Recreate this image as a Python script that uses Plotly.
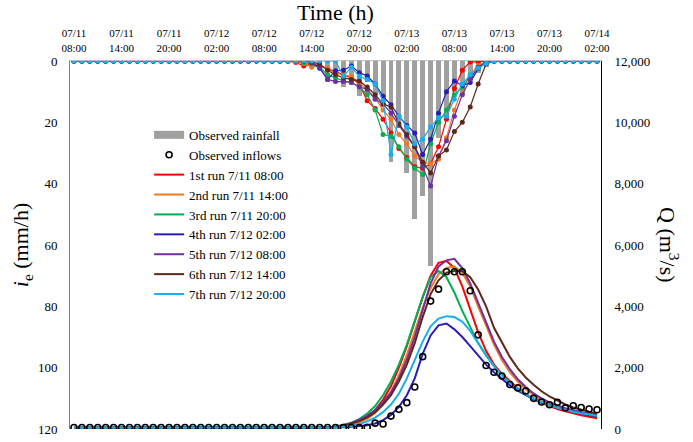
import plotly.graph_objects as go

# ---------------- data ----------------
hours = list(range(67))  # 07/11 08:00 ... 07/14 02:00, hourly
tick_vals = [0, 6, 12, 18, 24, 30, 36, 42, 48, 54, 60, 66]
tick_text = ["07/11<br>08:00", "07/11<br>14:00", "07/11<br>20:00", "07/12<br>02:00",
             "07/12<br>08:00", "07/12<br>14:00", "07/12<br>20:00", "07/13<br>02:00",
             "07/13<br>08:00", "07/13<br>14:00", "07/13<br>20:00", "07/14<br>02:00"]

# observed rainfall (mm/h)
rain_obs = [0] * 30 + [1, 1.5, 2, 3, 8.4, 5.5, 11.3, 7, 11, 15, 33, 20, 36.4, 51.4, 43.9, 66.8,
                       25, 19, 10, 11, 6, 4, 2] + [0] * 14

# forecast rainfall of each run (mm/h)
rain_run1 = [0] * 28 + [0.5, 1.6, 1.0, 1.5, 2.5, 3.5, 4.5, 5.5, 7.5, 13, 15.5, 19, 23.5, 28.5, 31.5,
                        34.5, 35, 33.5, 28, 19, 9, 3, 0.3, 0.3] + [0] * 15
rain_run2 = [0] * 28 + [0.3, 0.8, 2, 1.5, 2.5, 4, 4.5, 5, 7, 9.5, 12, 16, 19, 24, 27, 31, 33, 33.5,
                        32, 25, 16, 9, 4.5, 1.5, 0.3] + [0] * 14
rain_run3 = [0] * 29 + [0.5, 1, 2, 4.5, 5.5, 6.5, 7, 8.5, 11, 16, 24, 24.5, 28, 32, 35, 37, 27, 20,
                        16, 11, 8.5, 5, 2, 0.3] + [0] * 14
rain_run4 = [0] * 30 + [0.5, 2.4, 6, 3.2, 3, 1.6, 3.8, 4.9, 7.5, 11.5, 14.3, 18, 21, 23.5, 30.5,
                        25.5, 17, 10, 6.5, 8, 7, 2.5, 0.5] + [0] * 14
rain_run5 = [0] * 30 + [0.5, 2, 6, 6.7, 6.7, 7, 8.4, 9.3, 12.5, 14, 17, 21, 24.5, 28, 34.5, 40.8,
                        31, 26, 18, 11, 6, 2, 0.3] + [0] * 14
rain_run6 = [0] * 30 + [0.3, 1, 3, 4.5, 5.5, 6, 6.5, 8.5, 11, 14, 15, 20.5, 24, 28, 33, 36.5, 31,
                        29, 23, 20, 15, 7.5, 1] + [0] * 14
rain_run7 = [0] * 34 + [5, 2, 5, 6, 7.5, 13, 30.5, 18, 21.5, 27, 25.5, 21.5, 18.5, 18, 12.5, 7.5,
                        4.5, 2.4, 0.8] + [0] * 14

# observed inflows (m3/s)
q_obs = [50] * 37 + [55, 190, 165, 420, 640, 860, 1370, 2360, 4170, 4560, 5130, 5130, 5130, 4510,
                     3070, 2070, 1850, 1730, 1450, 1340, 1240, 1000, 880, 790, 870, 690, 760, 700,
                     650, 630]

# simulated inflows of each run (m3/s)
q_run1 = [40] * 33 + [60, 100, 160, 260, 400, 620, 950, 1400, 2000, 2700, 3500, 4300, 5000, 5420,
                      5480, 5250, 4650, 3900, 3150, 2550, 2100, 1800, 1550, 1330, 1150, 980, 850,
                      740, 650, 580, 510, 450, 400, 350]
q_run2 = [40] * 33 + [60, 90, 140, 220, 330, 520, 800, 1200, 1750, 2400, 3150, 3950, 4600, 5050,
                      5250, 5300, 5100, 4650, 4000, 3350, 2750, 2250, 1850, 1550, 1300, 1100, 950,
                      820, 720, 640, 570, 510, 460, 420]
q_run3 = [40] * 33 + [80, 130, 200, 320, 500, 750, 1100, 1550, 2100, 2750, 3500, 4300, 4950, 5150,
                      4950, 4450, 3850, 3300, 2800, 2400, 2050, 1750, 1500, 1300, 1130, 1000, 880,
                      780, 700, 630, 570, 520, 480, 440]
q_run4 = [40] * 33 + [45, 55, 70, 90, 120, 180, 290, 460, 720, 1100, 1650, 2450, 3050, 3380, 3440,
                      3250, 3000, 2700, 2400, 2100, 1850, 1620, 1420, 1250, 1100, 970, 860, 770,
                      690, 620, 560, 500, 450, 410]
q_run5 = [40] * 33 + [70, 120, 200, 300, 430, 620, 880, 1200, 1650, 2250, 3000, 3900, 4750, 5300,
                      5500, 5550, 5250, 4750, 4100, 3450, 2850, 2350, 1950, 1620, 1370, 1160, 1000,
                      870, 770, 680, 610, 550, 500, 460]
q_run6 = [40] * 33 + [60, 100, 170, 260, 380, 550, 800, 1100, 1550, 2100, 2800, 3650, 4400, 4850,
                      5100, 5150, 5150, 4950, 4550, 4000, 3300, 2800, 2350, 1980, 1680, 1440, 1230,
                      1060, 920, 800, 700, 620, 560, 500]
q_run7 = [40] * 33 + [50, 70, 100, 160, 250, 370, 550, 800, 1150, 1650, 2250, 2850, 3350, 3600,
                      3680, 3650, 3500, 3200, 2800, 2400, 2050, 1750, 1500, 1300, 1130, 990, 870,
                      770, 690, 620, 560, 510, 470, 430]

run_names = ["1st run 7/11 08:00", "2nd run 7/11 14:00", "3rd run 7/11 20:00",
             "4th run 7/12 02:00", "5th run 7/12 08:00", "6th run 7/12 14:00",
             "7th run 7/12 20:00"]
run_colors = ["#FF0000", "#F07820", "#00B050", "#2A1DB8", "#7030A0", "#5C2A1C", "#18AEEA"]
rain_runs = [rain_run1, rain_run2, rain_run3, rain_run4, rain_run5, rain_run6, rain_run7]
q_runs = [q_run1, q_run2, q_run3, q_run4, q_run5, q_run6, q_run7]

FONT = "Liberation Serif"
BAR_COLOR = "#A0A0A0"

fig = go.Figure()

fig.add_trace(go.Bar(x=hours, y=rain_obs, name="Observed rainfall", marker_color=BAR_COLOR,
                     marker_line_width=0, width=0.62, yaxis="y", showlegend=False))
# legend entry for the rainfall bars (wide grey block as in the reference)
fig.add_trace(go.Scatter(x=[None], y=[None], mode="lines", name="Observed rainfall",
                         line=dict(color=BAR_COLOR, width=8), yaxis="y", legendrank=1))

for name, color, r in zip(run_names, run_colors, rain_runs):
    fig.add_trace(go.Scatter(x=hours, y=r, mode="lines+markers", yaxis="y", showlegend=False,
                             line=dict(color=color, width=1.2),
                             marker=dict(color=color, size=5), hoverinfo="skip"))

for i, (name, color, q) in enumerate(zip(run_names, run_colors, q_runs)):
    fig.add_trace(go.Scatter(x=hours, y=q, mode="lines", yaxis="y2", name=name,
                             line=dict(color=color, width=2), legendrank=3 + i))

fig.add_trace(go.Scatter(x=hours, y=q_obs, mode="markers", yaxis="y2", name="Observed inflows",
                         marker=dict(symbol="circle-open", size=6, color="black",
                                     line=dict(width=1.6, color="black")),
                         legendrank=2))

fig.update_layout(
    width=693, height=442,
    margin=dict(l=70, r=92, t=61, b=13, autoexpand=False),
    paper_bgcolor="white", plot_bgcolor="white",
    font=dict(family=FONT, size=13, color="black"),
    bargap=0,
    xaxis=dict(side="top", range=[-0.5, 66.5], tickvals=tick_vals, ticktext=tick_text,
               tickfont=dict(size=11), showline=True, linecolor="#BFBFBF", linewidth=1,
               showgrid=False, zeroline=False, ticks="", ticklabelstandoff=4, automargin=False),
    yaxis=dict(range=[120, 0], tickvals=[0, 20, 40, 60, 80, 100, 120], showgrid=False,
               zeroline=False, showline=True, linecolor="#7F7F7F", linewidth=1, ticks="",
               tickfont=dict(size=13), ticklabelstandoff=9, automargin=False),
    yaxis2=dict(range=[0, 12000], overlaying="y", side="right", anchor="x",
                tickvals=[0, 2000, 4000, 6000, 8000, 10000, 12000], tickformat=",",
                showgrid=False, zeroline=False, showline=True, linecolor="black", linewidth=1,
                ticks="", tickfont=dict(size=13), ticklabelstandoff=10, automargin=False),
    legend=dict(x=0.149, y=0.84, xanchor="left", yanchor="top", bgcolor="rgba(0,0,0,0)",
                font=dict(size=13, family=FONT), tracegroupgap=0, itemwidth=30),
    showlegend=True,
    annotations=[
        dict(text="Time (h)", xref="paper", yref="paper", x=0.5, y=1.133, showarrow=False,
             xanchor="center", yanchor="middle", font=dict(size=22)),
        dict(text="<i>i</i><sub>e</sub> (mm/h)", xref="paper", yref="paper", x=-0.09, y=0.5,
             showarrow=False, textangle=-90, xanchor="center", yanchor="middle",
             font=dict(size=22)),
        dict(text="Q (m<sup>3</sup>/s)", xref="paper", yref="paper", x=1.128, y=0.5,
             showarrow=False, textangle=90, xanchor="center", yanchor="middle",
             font=dict(size=22)),
    ],
)

fig.write_html("out.html")
